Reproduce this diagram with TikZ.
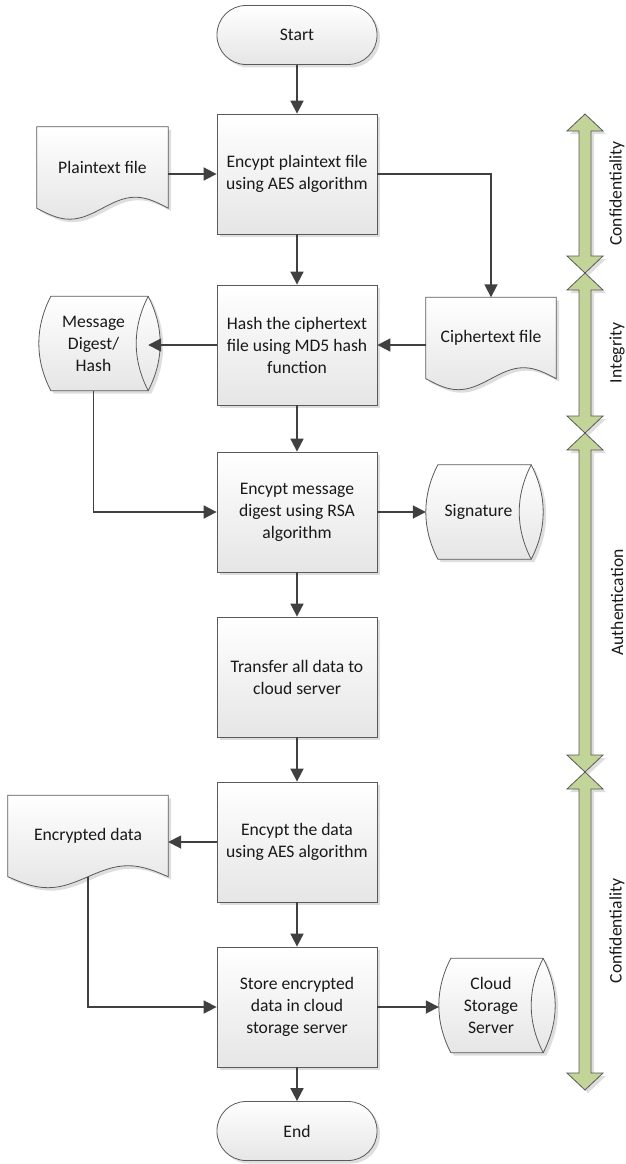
\documentclass[tikz,border=0pt]{standalone}
\usepackage{fontspec}
\setmainfont{Carlito}
\usetikzlibrary{arrows.meta,calc,backgrounds}
\definecolor{bandgreen}{RGB}{194,212,152}
\definecolor{edgegray}{RGB}{90,90,90}
\definecolor{linegray}{RGB}{64,64,64}
\tikzset{shadowdecorate/.style={preaction={fill=black!13,transform canvas={shift={(3pt,-3pt)}}}}}
%% outline of a document shape round node #1
\newcommand{\docoutline}[1]{%
  \path[docfill] (#1.north west) -- (#1.north east) -- (#1.south east)
    sin ($(#1.south west)!.75!(#1.south east)+(0,-11)$)
    cos ($(#1.south west)!.5!(#1.south east)$)
    sin ($(#1.south west)!.25!(#1.south east)+(0,11)$)
    cos (#1.south west) -- cycle;}
%% outline of a stored data shape round node #1
\newcommand{\storeoutline}[1]{%
  \path[docfill] ([xshift=12pt]#1.north west) -- (#1.north east)
    .. controls ($(#1.north east)!.33!(#1.south east)+(16,0)$) and ($(#1.south east)!.33!(#1.north east)+(16,0)$) .. (#1.south east)
    -- ([xshift=12pt]#1.south west)
    .. controls ($(#1.south west)!.33!(#1.north west)+(-4,0)$) and ($(#1.north west)!.33!(#1.south west)+(-4,0)$) .. ([xshift=12pt]#1.north west)
    -- cycle;
  \draw[draw=edgegray,line width=0.8pt] (#1.north east)
    .. controls ($(#1.north east)!.33!(#1.south east)+(-16,0)$) and ($(#1.south east)!.33!(#1.north east)+(-16,0)$) .. (#1.south east);}
\begin{document}
\begin{tikzpicture}
[x=1pt,y=-1pt,
  every node/.append style={font=\fontsize{17.6}{22}\selectfont,text=black!90},
  boxdecorate/.style={shape=rectangle,draw=edgegray,line width=0.8pt,
    top color=white,bottom color=black!10,shadowdecorate,
    minimum width=160pt,minimum height=120pt,align=center},
  termdecorate/.style={boxdecorate,minimum height=59pt,rounded corners=29pt},
  docdecorate/.style={shape=rectangle,minimum height=81pt,inner sep=0pt,align=center},
  storedecorate/.style={shape=rectangle,minimum height=94pt,inner sep=0pt,align=center},
  docfill/.style={draw=edgegray,line width=0.8pt,top color=white,bottom color=black!10,shadowdecorate},
  banddecorate/.style={draw=black!65,line width=0.8pt,fill=bandgreen,shadowdecorate},
  bandlabel/.style={rotate=90},
  linedecorate/.style={draw=linegray,line width=1.8pt,-{Triangle[length=13pt,width=13pt]}}]
\useasboundingbox (0,0) rectangle (626,1164);
%% terminals
\node (termstart) at (297,35) [termdecorate] {Start};
\node (termend) at (297,1131) [termdecorate] {End};
%% process boxes
\foreach \nodename/\y/\txt in {
  b1/174/{Encypt plaintext file\\using AES algorithm},
  b2/345/{Hash the ciphertext\\file using MD5 hash\\function},
  b3/512/{Encypt message\\digest using RSA\\algorithm},
  b4/677/{Transfer all data to\\cloud server},
  b5/842/{Encypt the data\\using AES algorithm},
  b6/1007/{Store encrypted\\data in cloud\\storage server}}
{
  \node (\nodename) at (297,\y) [boxdecorate] {\txt};
}
%% documents and stored data
\node (plain) at (102.5,167.5) [docdecorate,minimum width=131pt] {Plaintext file};
\node (cipher) at (491,338) [docdecorate,minimum width=130pt] {Ciphertext file};
\node (encdata) at (88,836) [docdecorate,minimum width=160pt] {Encrypted data};
\node (digest) at (93.5,343.5) [storedecorate,minimum width=109pt] {Message\\Digest/\\Hash};
\node (sig) at (478.5,512) [storedecorate,minimum width=105pt] {Signature};
\node (cloud) at (491,1005.5) [storedecorate,minimum width=104pt] {Cloud\\Storage\\Server};
\begin{scope}[on background layer]
  \docoutline{plain}
  \docoutline{cipher}
  \docoutline{encdata}
  \storeoutline{digest}
  \storeoutline{sig}
  \storeoutline{cloud}
\end{scope}
%% security bands
\foreach \ya/\yb/\bandname/\bandtext in {
  114/273/conf1/Confidentiality, 273/433/integ/Integrity,
  433/772/auth/Authentication, 772/1090/conf2/Confidentiality}
{
  \path[banddecorate] (585,\ya) -- (603,{\ya+17}) -- (591,{\ya+17}) -- (591,{\yb-17})
    -- (603,{\yb-17}) -- (585,\yb) -- (567,{\yb-17}) -- (579,{\yb-17})
    -- (579,{\ya+17}) -- (567,{\ya+17}) -- cycle;
  \node (\bandname) at (617,{(\ya+\yb)/2}) [bandlabel] {\bandtext};
}
%% edges or lines
\path
\foreach \startnode/\endnode in {termstart/b1, b1/b2, b2/b3, b3/b4, b4/b5, b5/b6, b6/termend} {
  (\startnode) edge[linedecorate] (\endnode)
};
\draw[linedecorate] (plain.east |- b1.west) -- (b1.west);
\draw[linedecorate] (b1.east) -| (cipher.north);
\draw[linedecorate] (cipher.west |- b2.east) -- (b2.east);
\draw[linedecorate] (b2.west) -- (b2.west -| digest.east);
\draw[linedecorate] (digest.south) |- (b3.west);
\draw[linedecorate] (b3.east) -- (b3.east -| sig.west);
\draw[linedecorate] (b5.west) -- (b5.west -| encdata.east);
\draw[linedecorate] (encdata.south) |- (b6.west);
\draw[linedecorate] (b6.east) -- (b6.east -| cloud.west);
\end{tikzpicture}
\end{document}
